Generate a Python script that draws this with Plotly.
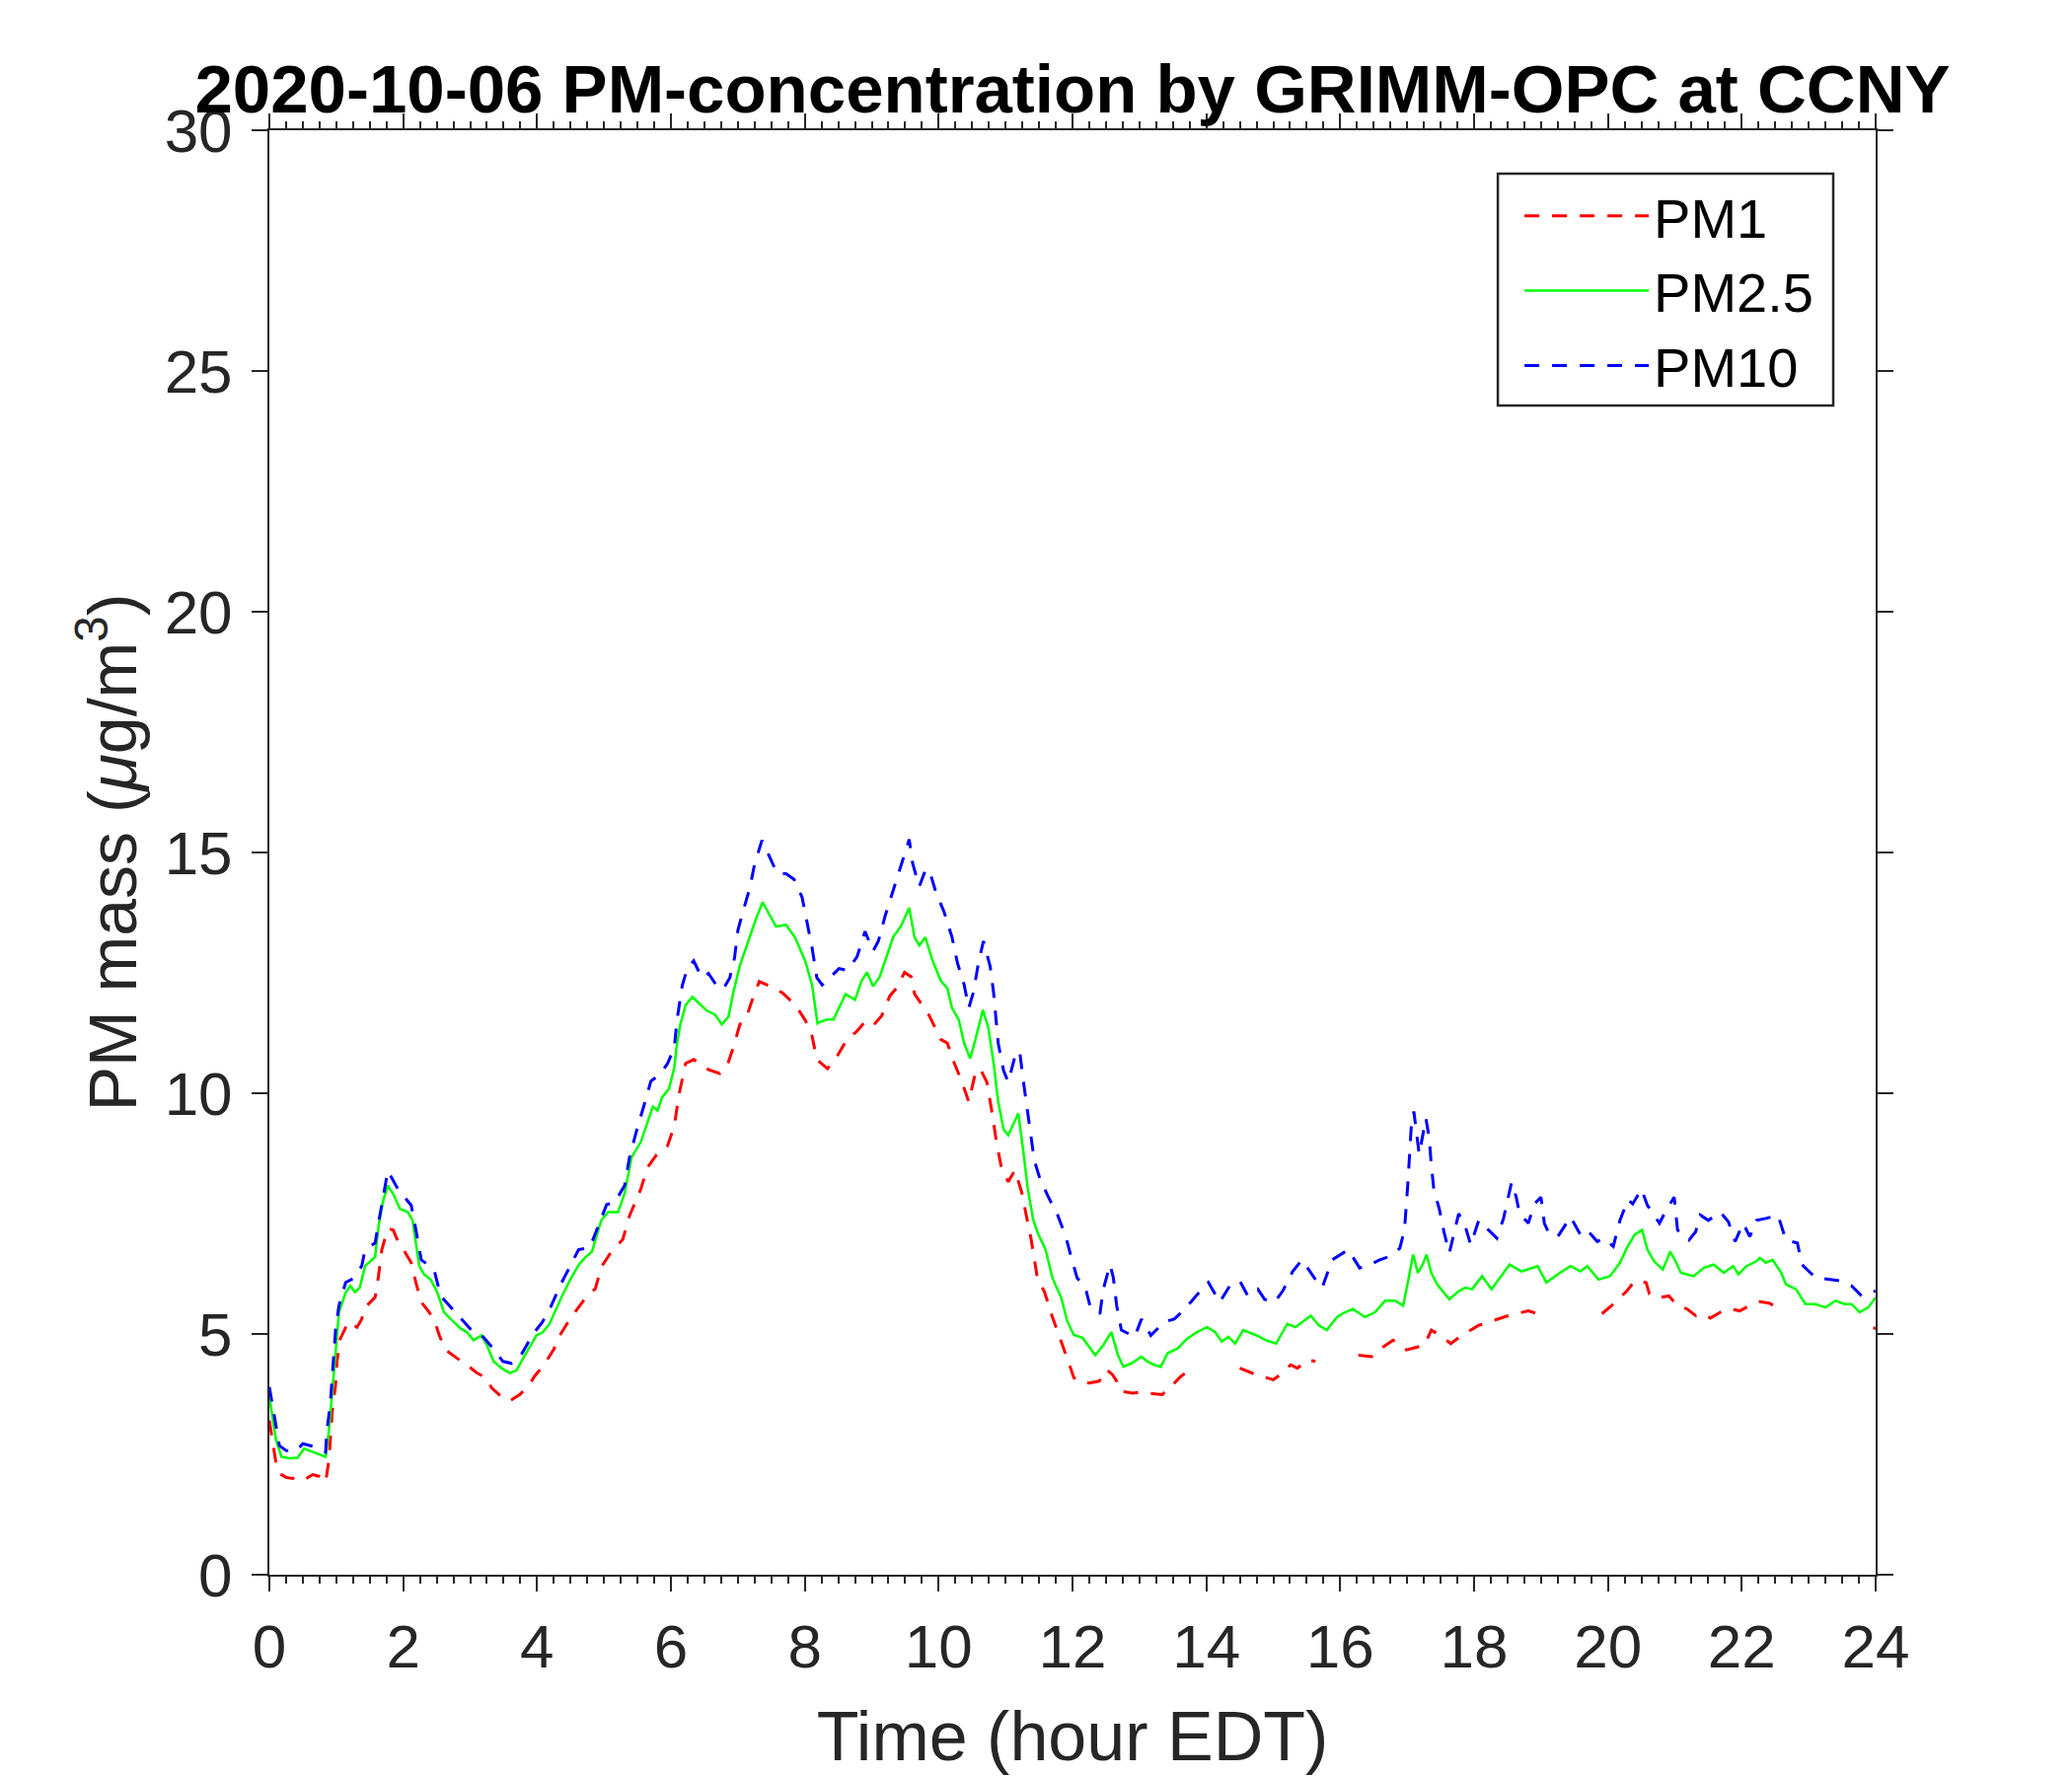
import plotly.graph_objects as go

# ---- data (hour EDT, PM mass in ug/m3) ----
pm1_t = [0.00, 0.05, 0.10, 0.15, 0.25, 0.35, 0.45, 0.55, 0.65, 0.75, 0.84, 0.89, 0.94, 0.99, 1.01, 1.06,
         1.18, 1.31, 1.38, 1.43, 1.58, 1.63, 1.68, 1.77, 1.85, 1.90, 2.00, 2.12, 2.19, 2.27, 2.39, 2.49,
         2.54, 2.63, 2.81, 2.95, 3.10, 3.25, 3.32, 3.49, 3.59, 3.74, 3.89, 3.96, 4.10, 4.25, 4.30, 4.50,
         4.74, 4.87, 4.96, 5.11, 5.28, 5.38, 5.55, 5.65, 5.80, 5.95, 6.05, 6.12, 6.22, 6.34, 6.56, 6.73,
         6.83, 6.93, 7.03, 7.13, 7.23, 7.32, 7.52, 7.67, 7.86, 8.01, 8.11, 8.18, 8.34, 8.48, 8.63, 8.78,
         8.93, 9.05, 9.15, 9.27, 9.37, 9.49, 9.59, 9.64, 9.74, 9.86, 10.03, 10.13, 10.23, 10.35, 10.45,
         10.55, 10.62, 10.72, 10.79, 10.87, 10.94, 11.04, 11.14, 11.24, 11.31, 11.38, 11.48, 11.58, 11.70,
         11.83, 11.95, 12.02, 12.10, 12.25, 12.40, 12.51, 12.60, 12.66, 12.72, 12.90, 13.05, 13.20, 13.34,
         13.50, 13.62, 13.76, 14.10, 14.50, 14.75, 15.00, 15.14, 15.26, 15.36, 15.51, 15.63, 16.00, 16.27,
         16.47, 16.64, 16.79, 16.99, 17.18, 17.26, 17.36, 17.50, 17.65, 17.82, 18.07, 18.30, 18.51, 18.81,
         18.95, 19.03, 19.50, 19.91, 20.08, 20.28, 20.40, 20.57, 20.62, 20.75, 20.91, 21.04, 21.18, 21.31,
         21.43, 21.53, 21.68, 21.82, 21.97, 22.12, 22.27, 22.41, 22.56, 22.62, 23.30, 23.97, 24.00]
pm1_v = [3.20, 2.75, 2.31, 2.10, 2.02, 2.00, 2.05, 2.00, 2.08, 2.04, 1.92, 2.38, 3.40, 3.95, 4.43, 4.90,
         5.25, 5.14, 5.31, 5.55, 5.76, 6.20, 6.75, 7.19, 7.16, 6.99, 6.75, 6.48, 6.07, 5.66, 5.45, 5.18,
         4.97, 4.67, 4.49, 4.36, 4.19, 4.08, 3.88, 3.67, 3.61, 3.74, 3.95, 4.12, 4.35, 4.68, 4.88, 5.33,
         5.78, 5.94, 6.39, 6.71, 6.96, 7.45, 8.01, 8.46, 8.75, 8.91, 9.32, 9.97, 10.62, 10.70, 10.49, 10.41,
         10.53, 10.94, 11.43, 11.59, 12.00, 12.32, 12.20, 12.08, 11.83, 11.51, 11.18, 10.70, 10.51, 10.76,
         11.12, 11.29, 11.53, 11.45, 11.61, 12.02, 12.18, 12.51, 12.42, 12.06, 11.86, 11.61, 11.12, 11.04,
         10.64, 10.23, 9.82, 10.43, 10.51, 10.23, 9.66, 8.93, 8.44, 8.16, 8.40, 7.95, 7.46, 6.98, 6.12,
         5.88, 5.35, 4.86, 4.38, 4.09, 4.00, 3.98, 4.02, 4.26, 4.15, 4.02, 3.81, 3.77, 3.80, 3.76, 3.74,
         3.95, 4.12, 4.26, None, 4.29, 4.15, 4.05, 4.19, 4.36, 4.29, 4.46, 4.43, None, 4.56, 4.53, 4.73,
         4.87, 4.67, 4.73, 4.77, 5.08, 4.97, 4.80, 4.97, 5.18, 5.28, 5.38, 5.48, 5.42, 5.28, None, 5.42,
         5.62, 5.89, 6.10, 6.07, 5.83, 5.75, 5.79, 5.59, 5.52, 5.38, 5.42, 5.33, 5.45, 5.52, 5.48, 5.59,
         5.67, 5.64, 5.52, 5.45, None, 5.10, 5.14]

pm25_t = [0.00, 0.05, 0.10, 0.18, 0.30, 0.42, 0.52, 0.65, 0.75, 0.84, 0.89, 0.94, 0.99, 1.04, 1.14, 1.21,
          1.28, 1.35, 1.43, 1.53, 1.58, 1.63, 1.70, 1.77, 1.85, 1.95, 2.07, 2.14, 2.19, 2.24, 2.31, 2.41,
          2.51, 2.61, 2.71, 2.86, 2.95, 3.05, 3.17, 3.25, 3.35, 3.47, 3.59, 3.69, 3.79, 3.89, 3.99, 4.08,
          4.18, 4.23, 4.37, 4.50, 4.62, 4.72, 4.82, 4.89, 4.96, 5.06, 5.21, 5.31, 5.41, 5.55, 5.65, 5.73,
          5.80, 5.87, 5.97, 6.05, 6.09, 6.14, 6.22, 6.32, 6.41, 6.54, 6.66, 6.76, 6.86, 6.93, 7.03, 7.15,
          7.27, 7.37, 7.47, 7.57, 7.72, 7.86, 8.01, 8.11, 8.19, 8.24, 8.34, 8.43, 8.51, 8.61, 8.75, 8.85,
          8.93, 9.02, 9.12, 9.22, 9.32, 9.44, 9.56, 9.64, 9.71, 9.80, 9.91, 10.03, 10.13, 10.20, 10.30,
          10.38, 10.47, 10.55, 10.66, 10.74, 10.82, 10.89, 10.97, 11.04, 11.11, 11.19, 11.26, 11.33, 11.41,
          11.48, 11.60, 11.70, 11.83, 11.92, 12.02, 12.15, 12.34, 12.46, 12.58, 12.68, 12.76, 12.88, 13.03,
          13.12, 13.22, 13.32, 13.42, 13.57, 13.71, 13.86, 14.01, 14.13, 14.23, 14.33, 14.43, 14.55, 14.75,
          14.89, 15.04, 15.14, 15.21, 15.33, 15.56, 15.68, 15.80, 15.95, 16.07, 16.19, 16.30, 16.37, 16.52,
          16.67, 16.82, 16.94, 17.01, 17.09, 17.16, 17.23, 17.29, 17.36, 17.45, 17.63, 17.77, 17.87, 17.97,
          18.12, 18.26, 18.41, 18.53, 18.71, 18.95, 19.08, 19.25, 19.44, 19.59, 19.69, 19.86, 20.03, 20.18,
          20.28, 20.40, 20.51, 20.59, 20.69, 20.82, 20.93, 21.01, 21.09, 21.28, 21.43, 21.58, 21.73, 21.87,
          21.95, 22.07, 22.22, 22.27, 22.36, 22.46, 22.59, 22.66, 22.81, 22.95, 23.10, 23.25, 23.40, 23.54,
          23.64, 23.76, 23.89, 24.00]
pm25_v = [3.70, 3.20, 2.80, 2.45, 2.42, 2.43, 2.62, 2.55, 2.50, 2.45, 3.00, 3.81, 4.77, 5.45, 5.86, 6.00,
          5.87, 5.96, 6.41, 6.54, 6.60, 7.23, 7.77, 8.08, 7.91, 7.60, 7.53, 7.36, 6.89, 6.41, 6.24, 6.13,
          5.86, 5.45, 5.31, 5.11, 5.04, 4.87, 4.97, 4.77, 4.43, 4.29, 4.19, 4.24, 4.49, 4.73, 4.97, 5.03,
          5.20, 5.35, 5.78, 6.14, 6.43, 6.59, 6.71, 7.04, 7.36, 7.53, 7.53, 7.93, 8.66, 8.99, 9.40, 9.72,
          9.64, 9.92, 10.09, 10.53, 11.02, 11.43, 11.83, 12.00, 11.88, 11.71, 11.63, 11.43, 11.59, 12.08,
          12.65, 13.14, 13.62, 13.97, 13.71, 13.46, 13.50, 13.22, 12.73, 12.24, 11.45, 11.49, 11.53, 11.53,
          11.77, 12.06, 11.94, 12.34, 12.51, 12.22, 12.42, 12.83, 13.24, 13.48, 13.85, 13.24, 13.07, 13.24,
          12.75, 12.34, 12.18, 11.77, 11.53, 11.04, 10.72, 11.12, 11.73, 11.37, 10.64, 9.82, 9.25, 9.13,
          9.33, 9.58, 8.85, 8.04, 7.39, 7.10, 6.74, 6.16, 5.76, 5.27, 4.98, 4.92, 4.56, 4.77, 5.04, 4.56,
          4.32, 4.39, 4.53, 4.43, 4.36, 4.32, 4.60, 4.70, 4.90, 5.04, 5.14, 5.04, 4.84, 4.94, 4.80, 5.08,
          4.97, 4.87, 4.80, 5.04, 5.21, 5.14, 5.38, 5.18, 5.08, 5.35, 5.45, 5.52, 5.42, 5.35, 5.45, 5.69,
          5.69, 5.59, 6.07, 6.65, 6.27, 6.44, 6.65, 6.27, 6.03, 5.72, 5.89, 5.96, 5.93, 6.20, 5.93, 6.20,
          6.44, 6.30, 6.41, 6.07, 6.24, 6.41, 6.30, 6.41, 6.13, 6.20, 6.48, 6.78, 7.06, 7.16, 6.75, 6.51,
          6.34, 6.71, 6.51, 6.27, 6.20, 6.37, 6.44, 6.27, 6.41, 6.24, 6.41, 6.51, 6.58, 6.48, 6.54, 6.27,
          6.03, 5.93, 5.62, 5.62, 5.55, 5.69, 5.62, 5.62, 5.45, 5.55, 5.76]

pm10_t = [0.00, 0.08, 0.15, 0.25, 0.40, 0.50, 0.60, 0.70, 0.84, 0.86, 0.91, 0.96, 0.99, 1.04, 1.14, 1.25,
          1.38, 1.43, 1.58, 1.63, 1.70, 1.77, 1.92, 2.12, 2.19, 2.27, 2.46, 2.56, 2.78, 3.00, 3.13, 3.30,
          3.49, 3.62, 3.76, 3.94, 4.08, 4.20, 4.35, 4.47, 4.62, 4.79, 4.92, 5.04, 5.16, 5.31, 5.38, 5.48,
          5.60, 5.70, 5.85, 5.95, 6.05, 6.09, 6.17, 6.24, 6.34, 6.46, 6.56, 6.68, 6.78, 6.88, 6.95, 7.00,
          7.08, 7.18, 7.25, 7.36, 7.47, 7.59, 7.72, 7.84, 7.96, 8.04, 8.11, 8.18, 8.26, 8.36, 8.51, 8.63,
          8.78, 8.90, 9.02, 9.10, 9.20, 9.32, 9.44, 9.56, 9.61, 9.71, 9.81, 9.88, 9.96, 10.08, 10.20, 10.28,
          10.38, 10.45, 10.52, 10.60, 10.67, 10.77, 10.82, 10.89, 10.97, 11.04, 11.14, 11.21, 11.26, 11.33,
          11.38, 11.43, 11.51, 11.63, 11.78, 11.90, 11.97, 12.07, 12.19, 12.26, 12.41, 12.46, 12.56, 12.61,
          12.66, 12.73, 12.93, 13.03, 13.17, 13.37, 13.52, 13.66, 13.89, 14.03, 14.20, 14.35, 14.50, 14.62,
          14.77, 14.87, 15.02, 15.14, 15.29, 15.43, 15.61, 15.73, 15.88, 16.00, 16.12, 16.29, 16.45, 16.59,
          16.74, 16.89, 16.96, 17.01, 17.06, 17.10, 17.18, 17.28, 17.33, 17.36, 17.40, 17.48, 17.55, 17.63,
          17.70, 17.77, 17.87, 17.95, 18.07, 18.22, 18.34, 18.44, 18.51, 18.56, 18.63, 18.68, 18.81, 18.90,
          19.00, 19.05, 19.12, 19.25, 19.44, 19.59, 19.69, 19.84, 19.94, 20.08, 20.18, 20.30, 20.37, 20.50,
          20.59, 20.77, 20.87, 20.99, 21.04, 21.21, 21.31, 21.38, 21.50, 21.68, 21.80, 21.90, 22.02, 22.12,
          22.22, 22.36, 22.54, 22.59, 22.66, 22.83, 22.90, 23.10, 23.35, 23.49, 23.64, 23.79, 23.94, 24.00]
pm10_v = [3.90, 3.27, 2.68, 2.58, 2.57, 2.72, 2.68, 2.65, 2.55, 3.00, 3.54, 4.49, 5.10, 5.59, 6.07, 6.15,
          6.41, 6.75, 6.89, 7.30, 7.84, 8.39, 8.01, 7.67, 7.16, 6.54, 6.34, 5.79, 5.45, 5.11, 5.04, 4.77,
          4.43, 4.39, 4.56, 5.00, 5.25, 5.55, 6.02, 6.35, 6.75, 6.80, 7.28, 7.69, 7.73, 8.09, 8.66, 9.19,
          9.76, 10.25, 10.41, 10.62, 10.94, 11.51, 12.24, 12.57, 12.75, 12.40, 12.49, 12.24, 12.16, 12.40,
          12.81, 13.38, 13.79, 14.27, 14.76, 15.25, 14.92, 14.56, 14.56, 14.44, 14.07, 13.54, 13.01, 12.40,
          12.25, 12.38, 12.59, 12.55, 12.83, 13.36, 12.95, 13.16, 13.68, 14.21, 14.74, 15.27, 14.78, 14.29,
          14.66, 14.54, 14.17, 13.77, 13.24, 12.71, 12.26, 11.77, 12.10, 12.75, 13.16, 12.63, 12.10, 11.04,
          10.47, 10.23, 10.76, 10.88, 10.31, 9.58, 9.09, 8.60, 8.24, 7.87, 7.46, 7.02, 6.65, 6.16, 5.98,
          5.59, 5.42, 5.93, 6.44, 6.17, 5.59, 5.08, 4.94, 5.31, 4.97, 5.25, 5.31, 5.49, 5.86, 6.07, 5.66,
          6.00, 6.10, 5.79, 5.93, 5.72, 5.66, 5.89, 6.30, 6.54, 6.17, 5.96, 6.54, 6.65, 6.75, 6.37, 6.44,
          6.54, 6.61, 6.78, 7.16, 8.11, 9.28, 9.62, 8.73, 9.48, 9.07, 8.52, 7.98, 7.60, 7.12, 6.68, 7.12,
          7.50, 7.23, 6.85, 7.36, 7.16, 6.99, 7.40, 7.84, 8.15, 7.84, 7.50, 7.30, 7.70, 7.84, 7.30, 7.09,
          7.02, 7.43, 7.06, 7.16, 6.92, 6.99, 6.82, 7.36, 7.79, 7.70, 8.01, 7.67, 7.30, 7.57, 7.84, 7.16,
          6.95, 7.12, 7.47, 7.36, 7.53, 7.33, 6.92, 7.30, 7.02, 7.36, 7.40, 7.47, 7.26, 6.95, 6.89, 6.44,
          6.17, 6.13, 6.10, 6.00, 5.79, 5.87, 5.89]

x_ticks = [0, 2, 4, 6, 8, 10, 12, 14, 16, 18, 20, 22, 24]
y_ticks = [0, 5, 10, 15, 20, 25, 30]

TITLE = "2020-10-06 PM-concentration by GRIMM-OPC at CCNY"
FONT = "Liberation Sans, Arial, Helvetica, sans-serif"
AX = "#262626"

fig = go.Figure()
fig.add_trace(go.Scatter(x=pm1_t, y=pm1_v, mode="lines", name="PM1",
                         line=dict(color="#ff0000", width=3, dash="15px,13px"), connectgaps=False))
fig.add_trace(go.Scatter(x=pm25_t, y=pm25_v, mode="lines", name="PM2.5",
                         line=dict(color="#00ff00", width=2.5)))
fig.add_trace(go.Scatter(x=pm10_t, y=pm10_v, mode="lines", name="PM10",
                         line=dict(color="#0000ff", width=3, dash="15px,13px")))

fig.update_layout(
    width=2100, height=1800,
    margin=dict(l=265, r=207, t=124, b=212),
    paper_bgcolor="white", plot_bgcolor="white",
    font=dict(family=FONT, size=62, color=AX),
    title=dict(text="<b>" + TITLE + "</b>", x=0.5, xref="paper", xanchor="center",
               y=1 - 82 / 1800, yref="container", yanchor="middle",
               font=dict(family=FONT, size=69, color="black")),
    showlegend=True,
    legend=dict(x=0.7783, y=0.9700, xanchor="left", yanchor="top",
                bgcolor="rgba(0,0,0,0)", borderwidth=0,
                font=dict(family=FONT, size=56, color="black"),
                itemwidth=126, tracegroupgap=0),
    shapes=[dict(type="rect", xref="paper", yref="paper",
                 x0=0.7648, x1=0.9736, y0=0.8094, y1=0.9699,
                 line=dict(color=AX, width=2.5), fillcolor="rgba(0,0,0,0)", layer="above")],
)
fig.update_xaxes(
    range=[0, 24], tickvals=x_ticks, ticktext=[str(v) for v in x_ticks],
    showline=True, linecolor=AX, linewidth=2, mirror="ticks",
    ticks="outside", ticklen=15, tickwidth=2, tickcolor=AX,
    minor=dict(dtick=0.25, ticks="outside", ticklen=7, tickwidth=2, tickcolor=AX),
    showgrid=False, zeroline=False, ticklabelstandoff=3,
    tickfont=dict(family=FONT, size=62, color=AX),
    title=dict(text="Time (hour EDT)", font=dict(family=FONT, size=70, color=AX), standoff=33),
)
fig.update_yaxes(
    range=[0, 30], tickvals=y_ticks, ticktext=[str(v) for v in y_ticks],
    showline=True, linecolor=AX, linewidth=2, mirror="ticks",
    ticks="outside", ticklen=16, tickwidth=2, tickcolor=AX,
    showgrid=False, zeroline=False, ticklabelstandoff=7,
    tickfont=dict(family=FONT, size=62, color=AX),
    title=dict(text="PM mass (<i>μ</i>g/m<sup>3</sup>)", font=dict(family=FONT, size=68, color=AX),
               standoff=6),
)

fig.write_html("out.html")
